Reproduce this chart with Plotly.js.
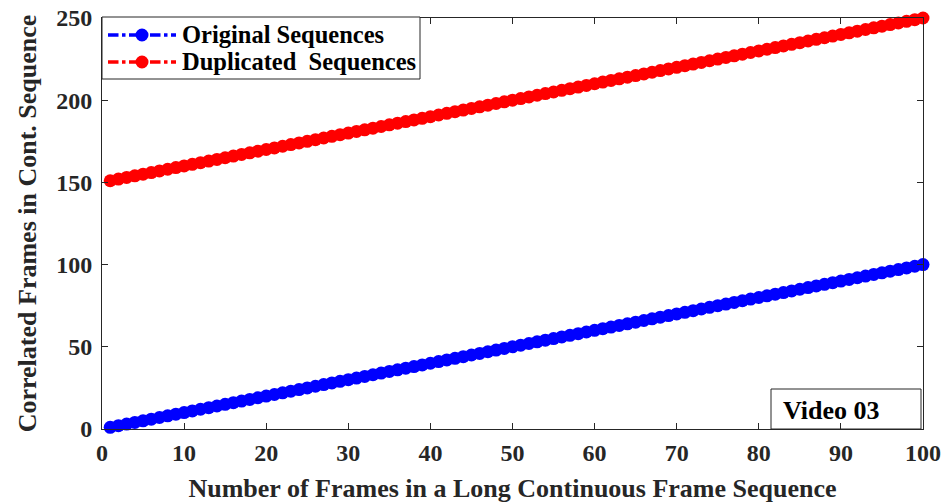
<!DOCTYPE html>
<html>
<head>
<meta charset="utf-8">
<script src="https://cdn.plot.ly/plotly-3.0.1.min.js"></script>
<style>
  html, body { margin: 0; padding: 0; background: #fff; }
  #chart { width: 948px; height: 504px; }
</style>
</head>
<body>
<div id="chart"></div>
<script>
// Frame index along the long continuous sequence
const frameIndex = [
  1, 2, 3, 4, 5, 6, 7, 8, 9, 10,
  11, 12, 13, 14, 15, 16, 17, 18, 19, 20,
  21, 22, 23, 24, 25, 26, 27, 28, 29, 30,
  31, 32, 33, 34, 35, 36, 37, 38, 39, 40,
  41, 42, 43, 44, 45, 46, 47, 48, 49, 50,
  51, 52, 53, 54, 55, 56, 57, 58, 59, 60,
  61, 62, 63, 64, 65, 66, 67, 68, 69, 70,
  71, 72, 73, 74, 75, 76, 77, 78, 79, 80,
  81, 82, 83, 84, 85, 86, 87, 88, 89, 90,
  91, 92, 93, 94, 95, 96, 97, 98, 99, 100
];

// Correlated frames counted in the original sequences
const originalSeq = [
  1, 2, 3, 4, 5, 6, 7, 8, 9, 10,
  11, 12, 13, 14, 15, 16, 17, 18, 19, 20,
  21, 22, 23, 24, 25, 26, 27, 28, 29, 30,
  31, 32, 33, 34, 35, 36, 37, 38, 39, 40,
  41, 42, 43, 44, 45, 46, 47, 48, 49, 50,
  51, 52, 53, 54, 55, 56, 57, 58, 59, 60,
  61, 62, 63, 64, 65, 66, 67, 68, 69, 70,
  71, 72, 73, 74, 75, 76, 77, 78, 79, 80,
  81, 82, 83, 84, 85, 86, 87, 88, 89, 90,
  91, 92, 93, 94, 95, 96, 97, 98, 99, 100
];

// Correlated frames counted in the duplicated sequences
const duplicatedSeq = [
  151, 152, 153, 154, 155, 156, 157, 158, 159, 160,
  161, 162, 163, 164, 165, 166, 167, 168, 169, 170,
  171, 172, 173, 174, 175, 176, 177, 178, 179, 180,
  181, 182, 183, 184, 185, 186, 187, 188, 189, 190,
  191, 192, 193, 194, 195, 196, 197, 198, 199, 200,
  201, 202, 203, 204, 205, 206, 207, 208, 209, 210,
  211, 212, 213, 214, 215, 216, 217, 218, 219, 220,
  221, 222, 223, 224, 225, 226, 227, 228, 229, 230,
  231, 232, 233, 234, 235, 236, 237, 238, 239, 240,
  241, 242, 243, 244, 245, 246, 247, 248, 249, 250
];

const xTicks = [0, 10, 20, 30, 40, 50, 60, 70, 80, 90, 100];
const yTicks = [0, 50, 100, 150, 200, 250];
const seriesNames = ['Original Sequences', 'Duplicated\u00A0 Sequences'];
const seriesColors = ['#0000ff', '#ff0000'];
const videoLabel = 'Video 03';

const serif = '"Liberation Serif", "Times New Roman", serif';
const axisColor = '#262626';

// Plot area in pixels, used to place the hand-built legend in paper units
const W = 948, H = 504;
const M = { l: 102, r: 25, t: 18, b: 75 };
const pw = W - M.l - M.r, ph = H - M.t - M.b;
const px = v => (v - M.l) / pw;
const py = v => (H - M.b - v) / ph;

function series(y, name, color) {
  return {
    x: frameIndex, y: y, name: name, type: 'scatter', mode: 'lines+markers',
    line: { color: color, width: 3, dash: 'dashdot' },
    marker: { color: color, size: 13, symbol: 'circle' },
    cliponaxis: false, showlegend: false
  };
}

const data = [
  series(originalSeq, seriesNames[0], seriesColors[0]),
  series(duplicatedSeq, seriesNames[1], seriesColors[1])
];

const axisCommon = {
  showgrid: false, zeroline: false,
  showline: true, linecolor: axisColor, linewidth: 1, mirror: 'ticks',
  ticks: 'inside', ticklen: 6, tickcolor: axisColor, tickwidth: 1,
  tickfont: { family: serif, size: 24, color: axisColor, weight: 'bold' }
};

// Legend box, sample lines, markers and labels
const shapes = [{
  type: 'rect', xref: 'paper', yref: 'paper',
  x0: px(102), x1: px(420), y0: py(79), y1: py(17),
  line: { color: axisColor, width: 1 }, fillcolor: '#ffffff', layer: 'above'
}];
const annotations = [];
const rowY = [35, 62];
seriesNames.forEach((name, i) => {
  shapes.push({
    type: 'line', xref: 'paper', yref: 'paper',
    x0: px(108), x1: px(176), y0: py(rowY[i]), y1: py(rowY[i]),
    line: { color: seriesColors[i], width: 3.5, dash: 'dashdot' }, layer: 'above'
  });
  shapes.push({
    type: 'circle', xref: 'paper', yref: 'paper',
    xsizemode: 'pixel', ysizemode: 'pixel',
    xanchor: px(142), yanchor: py(rowY[i]),
    x0: -6.5, x1: 6.5, y0: -6.5, y1: 6.5,
    line: { width: 0 }, fillcolor: seriesColors[i], layer: 'above'
  });
  annotations.push({
    xref: 'paper', yref: 'paper', x: px(180), y: py(rowY[i]),
    xanchor: 'left', yanchor: 'middle', showarrow: false,
    text: '<b>' + name + '</b>',
    font: { family: serif, size: 24.5, color: '#000000' }
  });
});

// Video label box
shapes.push({
  type: 'rect', xref: 'paper', yref: 'paper',
  x0: px(771), x1: px(921), y0: py(429), y1: py(389),
  line: { color: axisColor, width: 1 }, fillcolor: 'rgba(0,0,0,0)'
});
annotations.push({
  xref: 'paper', yref: 'paper', x: px(781), y: py(410),
  xanchor: 'left', yanchor: 'middle', showarrow: false,
  text: '<b>' + videoLabel + '</b>',
  font: { family: serif, size: 26, color: '#000000' }
});

const layout = {
  width: W, height: H,
  margin: M,
  paper_bgcolor: '#ffffff', plot_bgcolor: '#ffffff',
  font: { family: serif, color: axisColor },
  showlegend: false,
  xaxis: Object.assign({}, axisCommon, {
    range: [0, 100], tickvals: xTicks, ticklabelstandoff: 2,
    title: { text: '<b>Number of Frames in a Long Continuous Frame Sequence</b>',
             font: { family: serif, size: 26, color: axisColor }, standoff: 14 }
  }),
  yaxis: Object.assign({}, axisCommon, {
    range: [0, 250], tickvals: yTicks, ticklabelstandoff: 4,
    title: { text: '<b>Correlated Frames in Cont. Sequence</b>',
             font: { family: serif, size: 26, color: axisColor }, standoff: 12 }
  }),
  shapes: shapes,
  annotations: annotations
};

Plotly.newPlot('chart', data, layout, { displayModeBar: false, staticPlot: true });
</script>
</body>
</html>
